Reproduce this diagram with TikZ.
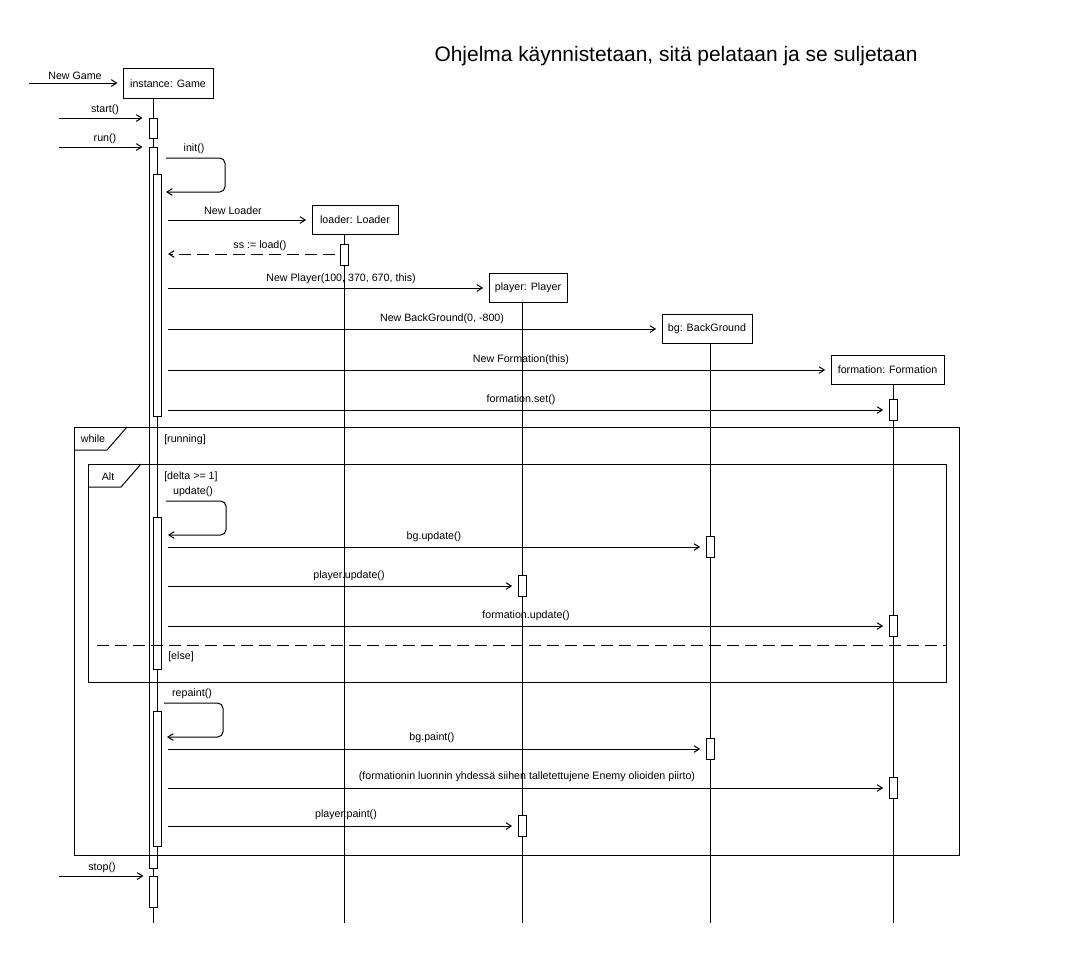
\documentclass[tikz,border=0pt]{standalone}
\usepackage{fontspec}
\setmainfont{Liberation Sans}
\usetikzlibrary{arrows.meta,fit}
\begin{document}
\begin{tikzpicture}[x=0.75pt,y=-0.75pt,
  lw/.style={line width=0.75pt},
  obj/.style={lw,draw,fill=white,inner sep=0pt},
  act/.style={lw,draw,fill=white,inner sep=0pt},
  life/.style={lw},
  msg/.style={lw,-{Straight Barb[length=4pt,width=5pt]}},
  ret/.style={msg,dash pattern=on 9pt off 4.5pt},
  selfmsg/.style={msg,rounded corners=4pt},
  frm/.style={lw,draw,inner sep=0pt},
  lbl/.style={font=\fontsize{8}{9.5}\selectfont,inner sep=0pt,yshift=-0.5pt},
  guard/.style={lbl,anchor=west},
  titl/.style={font=\fontsize{15.7}{18}\selectfont,inner sep=0pt}
]
\useasboundingbox (0,0) rectangle (1087,971);

% title
\node[titl] (title) at (676,56) {Ohjelma käynnistetaan, sitä pelataan ja se suljetaan};

% objects
\node[obj,fit={(123,68)(213,98)},label={[lbl]center:instance: Game}] (game) {};
\node[obj,fit={(312,205)(398,234)},label={[lbl]center:loader: Loader}] (loader) {};
\node[obj,fit={(489,273)(567,302)},label={[lbl]center:player: Player}] (player) {};
\node[obj,fit={(662,314)(752,343)},label={[lbl]center:bg: BackGround}] (bg) {};
\node[obj,fit={(831,355)(944,384)},label={[lbl]center:formation: Formation}] (formation) {};

% lifeline ends
\coordinate (gameEnd) at (153,923);
\coordinate (loaderEnd) at (344,923);
\coordinate (playerEnd) at (522,923);
\coordinate (bgEnd) at (710,923);
\coordinate (formationEnd) at (893,923);
\draw[life] (game.south -| gameEnd) -- (gameEnd);
\draw[life] (loader.south -| loaderEnd) -- (loaderEnd);
\draw[life] (player.south -| playerEnd) -- (playerEnd);
\draw[life] (bg.south -| bgEnd) -- (bgEnd);
\draw[life] (formation.south -| formationEnd) -- (formationEnd);

% activations
\node[act,fit={(149,118)(157,138)}] (aStart) {};
\node[act,fit={(149,147)(157,868)}] (aRun) {};
\node[act,fit={(153,174)(161,416)}] (aInit) {};
\node[act,fit={(340,244)(348,265)}] (aLoad) {};
\node[act,fit={(889,399)(897,420)}] (aFset) {};
\node[act,fit={(153,517)(161,669)}] (aUpd) {};
\node[act,fit={(706,536)(714,557)}] (aBgU) {};
\node[act,fit={(518,575)(526,596)}] (aPlU) {};
\node[act,fit={(889,615)(897,636)}] (aFoU) {};
\node[act,fit={(153,711)(161,846)}] (aRep) {};
\node[act,fit={(706,738)(714,759)}] (aBgP) {};
\node[act,fit={(889,777)(897,798)}] (aFoP) {};
\node[act,fit={(518,815)(526,836)}] (aPlP) {};
\node[act,fit={(149,876)(157,907)}] (aStop) {};

% frames
\node[frm,fit={(74,427)(959,855)}] (whileF) {};
\draw[lw] (74,450) -- (107,450) -- (127,427);
\node[lbl] (whileL) at (93,438) {while};
\node[guard] (runningG) at (164,439) {[running]};

\node[frm,fit={(88,464)(946,682)}] (altF) {};
\draw[lw] (88,487) -- (121,487) -- (141,464);
\node[lbl] (altL) at (108,476) {Alt};
\node[guard] (deltaG) at (164,476) {[delta >= 1]};
\coordinate (sepS) at (97,645);
\draw[lw,dash pattern=on 9pt off 4.5pt] (sepS) -- (altF.east |- sepS);
\node[guard] (elseG) at (168,656) {[else]};

% incoming messages
\coordinate (ngS) at (29,83);
\draw[msg,shorten >=3.75pt] (ngS) -- (game.west |- ngS);
\node[lbl] (ngL) at (75,75) {New Game};
\coordinate (stS) at (59,118);
\draw[msg,shorten >=4.5pt] (stS) -- (aStart.west |- stS);
\node[lbl] (stL) at (105,109) {start()};
\coordinate (rnS) at (59,147);
\draw[msg,shorten >=4.5pt] (rnS) -- (aRun.west |- rnS);
\node[lbl] (rnL) at (105,138) {run()};
\coordinate (spS) at (59,876);
\draw[msg,shorten >=3.75pt] (spS) -- (aStop.west |- spS);
\node[lbl] (spL) at (102,867) {stop()};

% self messages
\coordinate (initS) at (166,158);
\draw[selfmsg] (initS) -- ++(59,0) -- ++(0,34) -- ++(-59,0);
\node[lbl] (initL) at (194,148) {init()};
\coordinate (updS) at (166,501);
\draw[selfmsg] (updS) -- ++(60,0) -- ++(0,34) -- ++(-58,0);
\node[lbl] (updL) at (193,491) {update()};
\coordinate (repS) at (164,703);
\draw[selfmsg] (repS) -- ++(59,0) -- ++(0,34) -- ++(-56,0);
\node[lbl] (repL) at (192,693) {repaint()};

% calls
\coordinate (m1) at (168,220);
\draw[msg,shorten >=4pt] (m1) -- (loader.west |- m1);
\node[lbl] (m1L) at (233,210) {New Loader};
\coordinate (m2) at (168,254);
\draw[ret,shorten <=3.75pt] (aLoad.west |- m2) -- (m2);
\node[lbl] (m2L) at (260,245) {ss := load()};
\coordinate (m3) at (168,288);
\draw[msg,shorten >=4pt] (m3) -- (player.west |- m3);
\node[lbl] (m3L) at (341,278) {New Player(100, 370, 670, this)};
\coordinate (m4) at (168,329);
\draw[msg,shorten >=4pt] (m4) -- (bg.west |- m4);
\node[lbl] (m4L) at (442,318) {New BackGround(0, -800)};
\coordinate (m5) at (168,370);
\draw[msg,shorten >=4pt] (m5) -- (formation.west |- m5);
\node[lbl] (m5L) at (521,359) {New Formation(this)};
\coordinate (m6) at (168,410);
\draw[msg,shorten >=4pt] (m6) -- (aFset.west |- m6);
\node[lbl] (m6L) at (521,399) {formation.set()};

\coordinate (m7) at (168,547);
\draw[msg,shorten >=4pt] (m7) -- (aBgU.west |- m7);
\node[lbl] (m7L) at (434,536) {bg.update()};
\coordinate (m8) at (168,586);
\draw[msg,shorten >=4pt] (m8) -- (aPlU.west |- m8);
\node[lbl] (m8L) at (349,575) {player.update()};
\coordinate (m9) at (168,626);
\draw[msg,shorten >=4pt] (m9) -- (aFoU.west |- m9);
\node[lbl] (m9L) at (526,615) {formation.update()};

\coordinate (m10) at (168,749);
\draw[msg,shorten >=4pt] (m10) -- (aBgP.west |- m10);
\node[lbl] (m10L) at (432,737) {bg.paint()};
\coordinate (m11) at (168,788);
\draw[msg,shorten >=4pt] (m11) -- (aFoP.west |- m11);
\node[lbl] (m11L) at (527,776) {(formationin luonnin yhdessä siihen talletettujene Enemy olioiden piirto)};
\coordinate (m12) at (168,826);
\draw[msg,shorten >=4pt] (m12) -- (aPlP.west |- m12);
\node[lbl] (m12L) at (346,814) {player.paint()};
\end{tikzpicture}
\end{document}
